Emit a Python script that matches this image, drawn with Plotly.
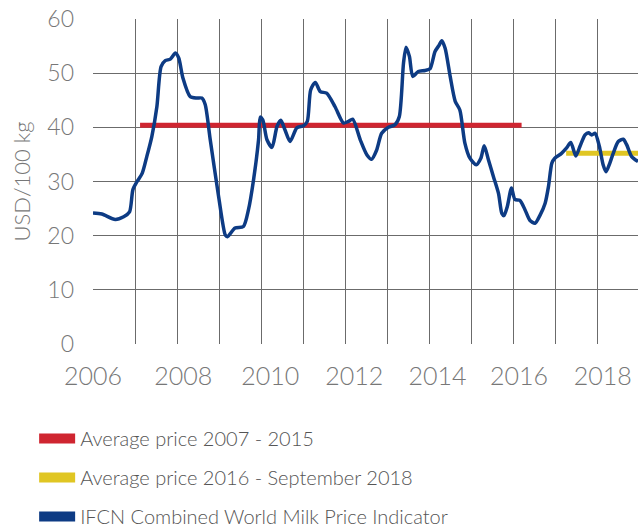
import plotly.graph_objects as go

# IFCN Combined World Milk Price Indicator (USD/100 kg)
milk_x = [2006.00, 2006.21, 2006.53, 2006.73, 2006.87, 2006.95, 2007.05, 2007.17, 2007.28, 2007.40,
          2007.52, 2007.62, 2007.72, 2007.84, 2007.96, 2008.04, 2008.14, 2008.31, 2008.46, 2008.59,
          2008.67, 2008.79, 2008.99, 2009.15, 2009.20, 2009.38, 2009.58, 2009.70, 2009.82, 2009.94,
          2009.98, 2010.04, 2010.14, 2010.26, 2010.38, 2010.47, 2010.57, 2010.69, 2010.85, 2011.01,
          2011.10, 2011.18, 2011.29, 2011.41, 2011.56, 2011.76, 2011.96, 2012.08, 2012.18, 2012.36,
          2012.52, 2012.63, 2012.75, 2012.87, 2013.03, 2013.19, 2013.29, 2013.39, 2013.45, 2013.53,
          2013.61, 2013.74, 2013.90, 2014.02, 2014.14, 2014.24, 2014.30, 2014.38, 2014.50, 2014.62,
          2014.73, 2014.85, 2014.97, 2015.12, 2015.23, 2015.31, 2015.41, 2015.53, 2015.65, 2015.73,
          2015.78, 2015.86, 2015.96, 2016.04, 2016.16, 2016.28, 2016.40, 2016.52, 2016.64, 2016.76,
          2016.84, 2016.92, 2016.99, 2017.15, 2017.27, 2017.37, 2017.49, 2017.59, 2017.71, 2017.79,
          2017.87, 2017.95, 2018.05, 2018.14, 2018.21, 2018.30, 2018.38, 2018.50, 2018.62, 2018.70,
          2018.82, 2018.97]
milk_y = [24.2, 24.0, 23.0, 23.5, 24.4, 28.5, 30.0, 31.5, 34.6, 38.3,
          43.8, 51.2, 52.3, 52.6, 53.7, 52.8, 49.1, 45.7, 45.4, 45.4,
          44.2, 37.7, 27.2, 20.1, 19.8, 21.4, 21.7, 24.8, 30.3, 37.7,
          41.9, 41.4, 37.7, 36.3, 40.2, 41.3, 39.5, 37.4, 39.9, 40.3,
          41.1, 46.9, 48.3, 46.6, 46.3, 43.8, 40.8, 41.1, 41.5, 37.7,
          34.9, 34.1, 35.8, 38.9, 40.0, 40.5, 42.0, 51.9, 54.8, 53.1,
          49.4, 50.3, 50.5, 50.8, 54.0, 55.2, 56.0, 54.6, 49.4, 44.8,
          43.2, 37.1, 34.3, 33.1, 34.3, 36.6, 34.0, 30.9, 27.8, 24.1,
          23.7, 25.4, 28.8, 26.7, 26.5, 24.8, 22.8, 22.3, 23.8, 26.0,
          29.1, 33.4, 34.3, 35.2, 36.2, 37.2, 34.7, 36.5, 38.6, 39.0,
          38.6, 38.9, 36.5, 33.1, 31.8, 33.4, 35.2, 37.4, 37.8, 36.8,
          34.6, 33.7]

avg1_x = [2007.12, 2016.20]
avg1_y = [40.4, 40.4]
avg2_x = [2017.26, 2019.5]
avg2_y = [35.2, 35.2]

year_grid = list(range(2006, 2020))
label_pos = [2006.0, 2008.15, 2010.22, 2012.22, 2014.2, 2016.14, 2018.13]
label_text = ["2006", "2008", "2010", "2012", "2014", "2016", "2018"]
y_ticks = [0, 10, 20, 30, 40, 50, 60]

names = ["Average price 2007 - 2015", "Average price 2016 - September 2018",
         "IFCN Combined World Milk Price Indicator"]
RED, YELLOW, BLUE = "#cf2530", "#e0c623", "#0d3b84"
FONT = "Lato, Open Sans, sans-serif"

fig = go.Figure()
fig.add_trace(go.Scatter(x=avg1_x, y=avg1_y, mode="lines", line=dict(color=RED, width=5),
                         showlegend=False))
fig.add_trace(go.Scatter(x=avg2_x, y=avg2_y, mode="lines", line=dict(color=YELLOW, width=5),
                         showlegend=False))
fig.add_trace(go.Scatter(x=milk_x, y=milk_y, mode="lines",
                         line=dict(color=BLUE, width=3.5, shape="spline", smoothing=0.7),
                         showlegend=False))
# legend entries
for nm, col in zip(names, [RED, YELLOW, BLUE]):
    fig.add_trace(go.Scatter(x=[None], y=[None], mode="lines", name=nm, legendgroup=nm,
                             line=dict(color=col, width=11)))

fig.update_layout(
    width=638, height=527,
    margin=dict(l=93, r=0, t=19, b=183, autoexpand=False),
    paper_bgcolor="white", plot_bgcolor="white",
    font=dict(family=FONT, color="#777777", weight=300),
    xaxis=dict(range=[2006, 2018.97], tickmode="array", tickvals=label_pos, ticktext=label_text,
               showgrid=False, zeroline=False, showline=False, automargin=False,
               tickfont=dict(size=25, color="#777777", family=FONT, weight=300),
               ticks="", ticklabelstandoff=15,
               minor=dict(tickmode="array", tickvals=year_grid, showgrid=True,
                          gridcolor="#6b6b6b", gridwidth=1.3)),
    yaxis=dict(range=[0, 60], tickmode="array", tickvals=y_ticks, showgrid=True,
               gridcolor="#6b6b6b", gridwidth=1.3, zeroline=False, showline=False,
               automargin=False,
               tickfont=dict(size=23, color="#777777", family=FONT, weight=300),
               ticklabelstandoff=18,
               title=dict(text="USD/100 kg", standoff=10,
                          font=dict(size=22, color="#777777", family=FONT, weight=300))),
    legend=dict(x=-0.108, y=-0.231, xanchor="left", yanchor="top", orientation="v",
                font=dict(size=20, color="#555555", family=FONT, weight=300),
                tracegroupgap=10, itemwidth=36, bgcolor="rgba(0,0,0,0)"),
)

fig.write_html("out.html", post_script="document.body.style.margin='0';",
               config={"displayModeBar": False})
